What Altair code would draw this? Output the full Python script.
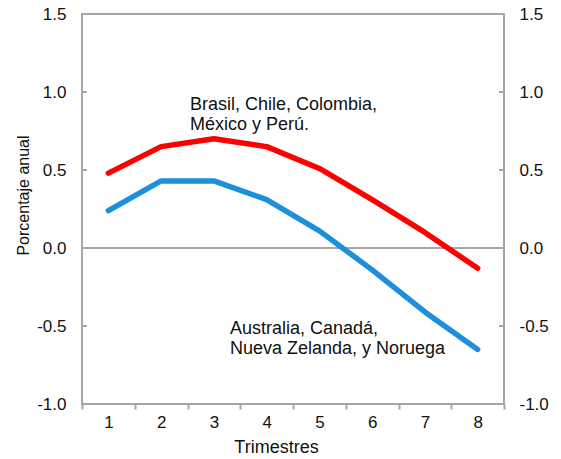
import altair as alt
import pandas as pd

# Quarterly projections by country group (annual percent)
quarters = [1, 2, 3, 4, 5, 6, 7, 8]
latam = [0.48, 0.65, 0.70, 0.65, 0.51, 0.31, 0.10, -0.13]
commodity = [0.24, 0.43, 0.43, 0.31, 0.11, -0.14, -0.41, -0.65]
y_ticks = [-1.0, -0.5, 0.0, 0.5, 1.0, 1.5]

latam_label = ["Brasil, Chile, Colombia,", "México y Perú."]
commodity_label = ["Australia, Canadá,", "Nueva Zelanda, y Noruega"]

W, H = 422, 390
GRAY = "#A6A6A6"
FONT = "Liberation Sans"
INK = "#111111"

# plain hyphen for negative numbers
LABEL_EXPR = "replace(format(datum.value, '.1f'), '\u2212', '-')"

df_latam = pd.DataFrame({"q": quarters, "v": latam})
df_comm = pd.DataFrame({"q": quarters, "v": commodity})
df_ticks = pd.DataFrame({"v": y_ticks})

yscale = alt.Scale(domain=[-1.0, 1.5], nice=False, zero=False)
xscale = alt.Scale(type="band", paddingInner=0, paddingOuter=0)

x_axis = alt.Axis(
    title="Trimestres", labelAngle=0, tickBand="extent", tickSize=5,
    tickColor=GRAY, tickWidth=2, domain=False, labelPadding=5,
    titlePadding=8, titleX=194, titleFontWeight="normal",
    labelFont=FONT, titleFont=FONT, labelFontSize=17, titleFontSize=18,
    labelColor=INK, titleColor=INK,
)

left_axis = alt.Axis(
    title="Porcentaje anual", values=y_ticks, labelExpr=LABEL_EXPR, ticks=False,
    domain=False, grid=False, labelPadding=16, titleFontWeight="normal",
    orient="left",
    titleX=-59, titleY=181, titleAngle=-90, titleAlign="center",
    titleBaseline="middle",
    labelFont=FONT, titleFont=FONT, labelFontSize=17, titleFontSize=16,
    labelColor=INK, titleColor=INK,
)
right_axis = alt.Axis(
    title="", titleOpacity=0, values=y_ticks, labelExpr=LABEL_EXPR, ticks=False,
    domain=False, grid=False, labelPadding=15, orient="right",
    labelFont=FONT, labelFontSize=17, labelColor=INK, labelFontWeight="normal",
)

zero = alt.Chart(df_ticks).transform_filter("datum.v == 0").mark_rule(
    color=GRAY, strokeWidth=2
).encode(y=alt.Y("v:Q", scale=yscale, axis=left_axis))

line_latam = alt.Chart(df_latam).mark_line(
    color="#FF0000", strokeWidth=5.5, strokeCap="round", strokeJoin="round"
).encode(
    x=alt.X("q:O", scale=xscale, axis=x_axis, bandPosition=0.5),
    y=alt.Y("v:Q", scale=yscale, axis=None),
)

line_comm = alt.Chart(df_comm).mark_line(
    color="#1E8FDB", strokeWidth=5.5, strokeCap="round", strokeJoin="round"
).encode(
    x=alt.X("q:O", scale=xscale, axis=x_axis, bandPosition=0.5),
    y=alt.Y("v:Q", scale=yscale, axis=right_axis),
)

# inward tick marks on both vertical axes
ticks_left = alt.Chart(df_ticks).mark_rule(color=GRAY, strokeWidth=2).encode(
    y=alt.Y("v:Q", scale=yscale, axis=None),
    x=alt.value(0), x2=alt.value(5),
)
ticks_right = alt.Chart(df_ticks).mark_rule(color=GRAY, strokeWidth=2).encode(
    y=alt.Y("v:Q", scale=yscale, axis=None),
    x=alt.value(W - 5), x2=alt.value(W),
)

note_latam = alt.Chart(pd.DataFrame({"t": [latam_label]})).mark_text(
    align="left", baseline="alphabetic", fontSize=18, lineHeight=20,
    font=FONT, color=INK,
).encode(text="t", x=alt.value(108), y=alt.value(96))

note_comm = alt.Chart(pd.DataFrame({"t": [commodity_label]})).mark_text(
    align="left", baseline="alphabetic", fontSize=18, lineHeight=20,
    font=FONT, color=INK,
).encode(text="t", x=alt.value(148), y=alt.value(320))

chart = alt.layer(
    zero, line_latam, line_comm, ticks_left, ticks_right, note_latam, note_comm
).resolve_axis(y="independent").properties(
    width=W, height=H,
    background="white",
    autosize=alt.AutoSizeParams(type="none"),
    padding={"left": 82, "top": 14, "right": 57, "bottom": 55},
).configure_view(
    stroke=GRAY, strokeWidth=2
)

chart.save("out.html", embed_options={"renderer": "svg", "actions": False})
